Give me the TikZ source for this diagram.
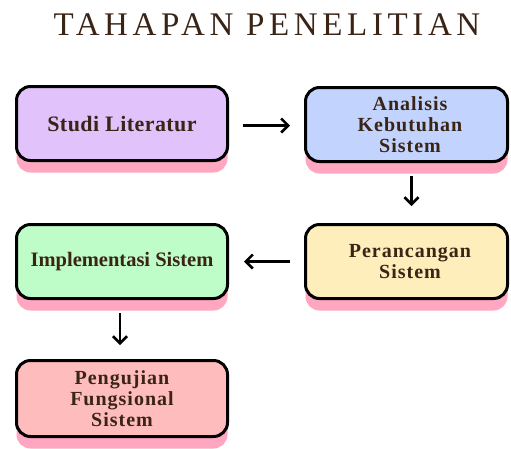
\documentclass[tikz,border=0pt]{standalone}
\usepackage{fontspec}
\setmainfont{Liberation Serif}
\newfontfamily\titlefont[LetterSpace=14]{Liberation Serif}
\newfontfamily\widefont[LetterSpace=5]{Liberation Serif}
\newfontfamily\narrowfont[LetterSpace=2]{Liberation Serif}
\usetikzlibrary{arrows.meta,shadows}
\definecolor{txtbrown}{HTML}{3A2416}
\definecolor{shpink}{HTML}{FFA6C0}
\definecolor{clav}{HTML}{E2C2FB}
\definecolor{cblue}{HTML}{C2D4FD}
\definecolor{cyellow}{HTML}{FDEEBB}
\definecolor{cgreen}{HTML}{BFFDC8}
\definecolor{cpink}{HTML}{FFBCBC}
\tikzset{
  stagebox/.style={draw=black, line width=3pt, rounded corners=14pt,
    minimum height=74pt, inner sep=0pt, align=center, text=txtbrown,
    general shadow={fill=shpink, shadow yshift=-12pt}},
  widetext/.style={font=\widefont\bfseries\fontsize{20}{21}\selectfont},
  flowarrow/.style={line width=2.6pt, -{Straight Barb[length=7pt,width=14pt]}},
}
\begin{document}
\begin{tikzpicture}[x=1pt,y=-1pt]
\useasboundingbox (0,0) rectangle (511,448);
\node[text=txtbrown, inner sep=0pt, font=\titlefont\fontsize{33}{40}\selectfont] (title) at (267,25) {TAHAPAN PENELITIAN};

\node[stagebox, fill=clav, minimum width=211pt, font=\narrowfont\bfseries\fontsize{22}{24}\selectfont] (b1) at (122,123.5)
  {Studi Literatur};
\node[stagebox, fill=cblue, minimum width=202pt, widetext] (b2) at (406.5,124.5)
  {\hspace*{7pt}Analisis\\\hspace*{7pt}Kebutuhan\\\hspace*{7pt}Sistem};
\node[stagebox, fill=cyellow, minimum width=202pt, widetext] (b3) at (406.5,261.5)
  {\hspace*{7pt}Perancangan\\\hspace*{7pt}Sistem};
\node[stagebox, fill=cgreen, minimum width=211pt, font=\bfseries\fontsize{20.5}{22}\selectfont] (b4) at (122,261.5)
  {Implementasi Sistem};
\node[stagebox, fill=cpink, minimum width=211pt, minimum height=76pt, widetext] (b5) at (122,398.5)
  {Pengujian\\Fungsional\\Sistem};

\draw[flowarrow, shorten <=14pt, shorten >=14pt] ([yshift=-2pt]b1.east) -- ([yshift=-2pt]b1.east -| b2.west);
\draw[flowarrow, shorten <=13pt, shorten >=17pt] ([xshift=5pt]b2.south) -- ([xshift=5pt]b3.north);
\draw[flowarrow, shorten <=14pt, shorten >=15pt] (b3.west) -- (b4.east);
\draw[flowarrow, shorten <=13pt, shorten >=14pt] ([xshift=-2pt]b4.south) -- ([xshift=-2pt]b5.north);
\end{tikzpicture}
\end{document}
